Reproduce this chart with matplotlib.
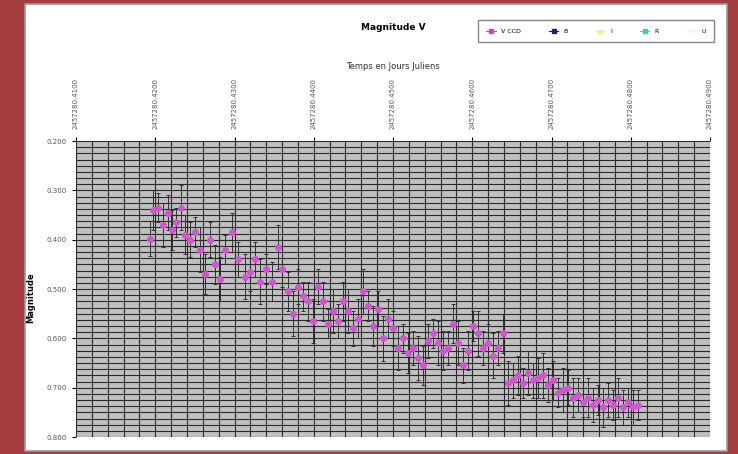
import numpy as np
import matplotlib.pyplot as plt
from matplotlib.patches import Rectangle
from matplotlib.ticker import MultipleLocator, FormatStrFormatter

# Julian date = 2457280 + fraction
jd_base = 2457280.0
jd_frac = [0.4193, 0.4197, 0.4203, 0.4210, 0.4216, 0.4221, 0.4226, 0.4232, 0.4238, 0.4244,
           0.4250, 0.4256, 0.4263, 0.4269, 0.4275, 0.4282, 0.4288, 0.4297, 0.4304, 0.4313,
           0.4320, 0.4326, 0.4332, 0.4340, 0.4347, 0.4355, 0.4360, 0.4368, 0.4374, 0.4380,
           0.4386, 0.4393, 0.4399, 0.4405, 0.4412, 0.4418, 0.4424, 0.4431, 0.4437, 0.4443,
           0.4450, 0.4456, 0.4462, 0.4468, 0.4475, 0.4481, 0.4487, 0.4494, 0.4500, 0.4506,
           0.4513, 0.4519, 0.4525, 0.4532, 0.4538, 0.4544, 0.4550, 0.4557, 0.4563, 0.4569,
           0.4576, 0.4582, 0.4588, 0.4595, 0.4601, 0.4607, 0.4614, 0.4620, 0.4626, 0.4632,
           0.4639, 0.4645, 0.4651, 0.4658, 0.4664, 0.4670, 0.4677, 0.4683, 0.4689, 0.4696,
           0.4702, 0.4708, 0.4715, 0.4721, 0.4727, 0.4733, 0.4740, 0.4746, 0.4752, 0.4759,
           0.4765, 0.4771, 0.4778, 0.4784, 0.4790, 0.4797, 0.4803, 0.4809]
mag_v = [0.398, 0.340, 0.335, 0.370, 0.345, 0.380, 0.365, 0.335, 0.390, 0.400,
         0.385, 0.420, 0.470, 0.400, 0.450, 0.480, 0.420, 0.385, 0.440, 0.475,
         0.465, 0.440, 0.485, 0.460, 0.485, 0.415, 0.460, 0.505, 0.550, 0.495,
         0.515, 0.525, 0.565, 0.495, 0.525, 0.570, 0.545, 0.565, 0.525, 0.545,
         0.580, 0.560, 0.505, 0.535, 0.575, 0.540, 0.600, 0.560, 0.580, 0.620,
         0.600, 0.630, 0.620, 0.640, 0.655, 0.605, 0.590, 0.610, 0.625, 0.620,
         0.570, 0.610, 0.655, 0.625, 0.575, 0.590, 0.620, 0.610, 0.635, 0.620,
         0.590, 0.690, 0.685, 0.675, 0.690, 0.670, 0.685, 0.680, 0.675, 0.695,
         0.685, 0.710, 0.705, 0.700, 0.720, 0.715, 0.730, 0.720, 0.735, 0.725,
         0.740, 0.725, 0.735, 0.720, 0.740, 0.730, 0.740, 0.735]
err_v = [0.035, 0.040, 0.030, 0.045, 0.035, 0.040, 0.030, 0.045, 0.040, 0.035,
         0.030, 0.045, 0.040, 0.035, 0.040, 0.045, 0.030, 0.040, 0.035, 0.045,
         0.040, 0.035, 0.045, 0.030, 0.040, 0.045, 0.035, 0.040, 0.045, 0.035,
         0.030, 0.040, 0.045, 0.035, 0.040, 0.030, 0.045, 0.035, 0.040, 0.045,
         0.035, 0.040, 0.045, 0.030, 0.040, 0.035, 0.045, 0.040, 0.035, 0.045,
         0.030, 0.040, 0.035, 0.045, 0.040, 0.035, 0.030, 0.045, 0.040, 0.035,
         0.040, 0.045, 0.035, 0.040, 0.030, 0.045, 0.035, 0.040, 0.045, 0.035,
         0.040, 0.045, 0.035, 0.040, 0.030, 0.045, 0.035, 0.040, 0.045, 0.035,
         0.040, 0.030, 0.045, 0.035, 0.040, 0.035, 0.030, 0.040, 0.035, 0.030,
         0.040, 0.035, 0.030, 0.040, 0.035, 0.030, 0.035, 0.030]
legend_names = ['V CCD', 'B', 'I', 'R', 'U']
legend_colors = ['#cc44cc', '#1f1f7a', '#f2f27a', '#33cccc', '#f4f4f4']
legend_markers = ['s', 's', '^', 's', 'x']

x_ticks = [0.41, 0.42, 0.43, 0.44, 0.45, 0.46, 0.47, 0.48, 0.49]

jd = jd_base + np.array(jd_frac)

fig = plt.figure(figsize=(7.38, 4.54), dpi=100, facecolor='#a33c3c')
fig.patches.append(Rectangle((25/738, 3/454), 702/738, 447/454, transform=fig.transFigure,
                             facecolor='white', edgecolor='#999999', lw=1.2, zorder=-5))

ax = fig.add_axes([76/738, 1 - 437/454, 634/738, 296/454])
ax.set_zorder(2)
ax.set_facecolor('#c0c0c0')

ax.errorbar(jd, mag_v, yerr=err_v, fmt='o', color='#d055d0', markersize=4,
            ecolor='#303030', elinewidth=0.7, capsize=1.5, capthick=0.7, zorder=3)

ax.set_xlim(jd_base + x_ticks[0], jd_base + x_ticks[-1])
ax.set_ylim(0.8, 0.2)
ax.xaxis.tick_top()
ax.xaxis.set_label_position('top')
ax.set_xticks([jd_base + t for t in x_ticks])
ax.set_xticklabels(['%.4f' % (jd_base + t) for t in x_ticks], rotation=90, fontsize=5, color='#555555')
ax.xaxis.set_minor_locator(MultipleLocator(0.002))
ax.yaxis.set_major_locator(MultipleLocator(0.1))
ax.yaxis.set_minor_locator(MultipleLocator(0.0125))
ax.yaxis.set_major_formatter(FormatStrFormatter('%.3f'))
ax.tick_params(axis='y', labelsize=5, labelcolor='#555555', length=3)
ax.tick_params(axis='x', length=3, pad=6)
ax.tick_params(which='minor', length=0)
ax.grid(True, which='both', color='#2a2a2a', lw=0.8)
ax.set_axisbelow(True)
for s in ax.spines.values():
    s.set_visible(False)

ax.set_xlabel('Temps en Jours Juliens', fontsize=6, color='#333333', labelpad=6)
ax.set_ylabel('Magnitude', fontsize=6, fontweight='bold')
ax.yaxis.set_label_coords(-0.065, 0.47)
fig.text(393/738, 1 - 28/454, 'Magnitude V', fontsize=6.5, fontweight='bold', ha='center', va='center')

handles = [plt.Line2D([], [], marker=m, color=c, ls='-', lw=0.8, markersize=3)
           for m, c in zip(legend_markers, legend_colors)]
fig.legend(handles, legend_names, loc='center', bbox_to_anchor=(596/738, 1 - 31/454),
           ncol=5, fontsize=4.5, frameon=True, edgecolor='#666666', fancybox=False,
           columnspacing=4.5, handlelength=1.5, borderpad=1.4)

fig.savefig('out.png', dpi=100, facecolor=fig.get_facecolor())
